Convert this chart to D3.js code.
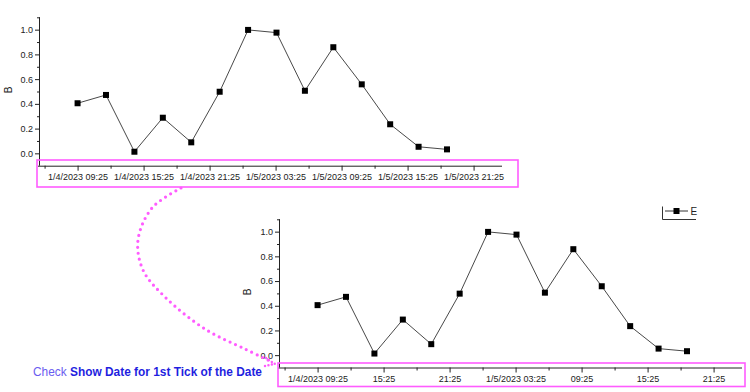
<!DOCTYPE html>
<html><head><meta charset="utf-8">
<script src="https://cdn.jsdelivr.net/npm/d3@7"></script>
<style>
body{margin:0;background:#fff;}
svg{display:block;font-family:"Liberation Sans",Arial,sans-serif;}
</style></head>
<body>
<svg id="c" width="750" height="392"></svg>
<script>
// ---- data ----
const times = ["2023-01-04T09:25","2023-01-04T12:00","2023-01-04T14:35","2023-01-04T17:10","2023-01-04T19:45",
  "2023-01-04T22:20","2023-01-05T00:55","2023-01-05T03:30","2023-01-05T06:05","2023-01-05T08:40",
  "2023-01-05T11:15","2023-01-05T13:50","2023-01-05T16:25","2023-01-05T19:00"];
const valuesB = [0.405,0.472,0.013,0.288,0.089,0.498,0.998,0.976,0.506,0.858,0.558,0.235,0.053,0.032];
const majorTicks = ["2023-01-04T09:25","2023-01-04T15:25","2023-01-04T21:25","2023-01-05T03:25","2023-01-05T09:25","2023-01-05T15:25","2023-01-05T21:25"];
const minorTicks = ["2023-01-04T06:25","2023-01-04T12:25","2023-01-04T18:25","2023-01-05T00:25","2023-01-05T06:25","2023-01-05T12:25","2023-01-05T18:25"];
const xDomain = ["2023-01-04T06:00","2023-01-06T00:00"];
const yTicks = [0.0,0.2,0.4,0.6,0.8,1.0];
const yMinor = [0.1,0.3,0.5,0.7,0.9,1.1];
const yDomain = [-0.1,1.1];
const seriesName = "E";
const yLabel = "B";
const noteRegular = "Check ";
const noteBold = "Show Date for 1st Tick of the Date";
const curvePts = [[181,188],[152,208],[138,240],[143,270],[165,297],[205,329],[245,349],[272,362]];

const parse = d3.timeParse("%Y-%m-%dT%H:%M");
const T = times.map(parse), MJ = majorTicks.map(parse), MN = minorTicks.map(parse);
const data = T.map((t,i)=>({t, v: valuesB[i]}));
const svg = d3.select("#c");
const textCol = "#222";

function panel(x0, x1, yTop, yBot, labelFn, labX, labY){
  const x = d3.scaleTime().domain(xDomain.map(parse)).range([x0,x1]);
  const y = d3.scaleLinear().domain(yDomain).range([yBot,yTop]);
  const g = svg.append("g");
  // x axis
  const xa = g.append("g").attr("transform",`translate(0,${yBot})`)
    .call(d3.axisBottom(x).tickValues(MJ).tickSize(5).tickPadding(3).tickFormat(labelFn));
  xa.select(".domain").attr("d",`M${x0-2},0.5H${x1}`).attr("stroke","#222");
  xa.selectAll(".tick line").attr("stroke","#222");
  xa.selectAll("text").attr("font-size",9).attr("fill",textCol).attr("font-family","Liberation Sans, Arial");
  g.append("g").attr("transform",`translate(0,${yBot})`)
    .call(d3.axisBottom(x).tickValues(MN).tickSize(3).tickFormat(""))
    .call(s=>{s.select(".domain").remove(); s.selectAll("line").attr("stroke","#222");});
  // y axis
  const ya = g.append("g").attr("transform",`translate(${x0},0)`)
    .call(d3.axisLeft(y).tickValues(yTicks).tickSize(5).tickPadding(2).tickFormat(d3.format(".1f")));
  ya.select(".domain").attr("d",`M-0.5,${yBot}V${yTop}`).attr("stroke","#222");
  ya.selectAll(".tick line").attr("stroke","#222");
  ya.selectAll("text").attr("font-size",9).attr("fill",textCol).attr("font-family","Liberation Sans, Arial");
  g.append("g").attr("transform",`translate(${x0},0)`)
    .call(d3.axisLeft(y).tickValues(yMinor).tickSize(3).tickFormat(""))
    .call(s=>{s.select(".domain").remove(); s.selectAll("line").attr("stroke","#222");});
  // label
  g.append("text").attr("transform",`translate(${labX},${labY}) rotate(-90)`)
    .attr("text-anchor","middle").attr("font-size",10).attr("fill",textCol).text(yLabel);
  // line + markers
  g.append("path").datum(data).attr("fill","none").attr("stroke","#333").attr("stroke-width",0.9)
    .attr("d", d3.line().x(d=>x(d.t)).y(d=>y(d.v)));
  g.selectAll("rect.m").data(data).join("rect").attr("class","m")
    .attr("x",d=>x(d.t)-3).attr("y",d=>y(d.v)-3).attr("width",6).attr("height",6).attr("fill","#000");
}

const fullFmt = d3.timeFormat("%-m/%-d/%Y %H:%M");
const timeFmt = d3.timeFormat("%H:%M");
panel(40, 502, 17.3, 165.7, d=>fullFmt(d), 12, 90);
panel(280, 742, 219.3, 367.5, (d,i)=>{
  if(i===0) return fullFmt(d);
  const prev = MJ[i-1];
  return prev.getDate()!==d.getDate() ? fullFmt(d) : timeFmt(d);
}, 251, 292);

// legend
const lg = svg.append("g");
lg.append("path").attr("d","M662.5,206.5V219.5H696").attr("fill","none").attr("stroke","#333").attr("stroke-width",1);
lg.append("line").attr("x1",665).attr("x2",688).attr("y1",211).attr("y2",211).attr("stroke","#333");
lg.append("rect").attr("x",673.5).attr("y",208).attr("width",6).attr("height",6).attr("fill","#000");
lg.append("text").attr("x",690.5).attr("y",215).attr("font-size",10).attr("fill",textCol).text(seriesName);

// highlight boxes
const mag = "#ff5cff";
svg.append("rect").attr("x",37).attr("y",160).attr("width",481).attr("height",27)
  .attr("fill","none").attr("stroke",mag).attr("stroke-width",1.6);
svg.append("rect").attr("x",278).attr("y",363).attr("width",467).attr("height",23.5)
  .attr("fill","none").attr("stroke",mag).attr("stroke-width",1.6);

// dotted connector
svg.append("path").datum(curvePts).attr("fill","none").attr("stroke",mag)
  .attr("stroke-width",3.2).attr("stroke-linecap","round").attr("stroke-dasharray","0 6")
  .attr("d", d3.line().curve(d3.curveCatmullRom)(curvePts));
svg.append("path").attr("d","M266,358L275,364L265,366").attr("fill","none").attr("stroke",mag)
  .attr("stroke-width",2.5).attr("stroke-linecap","round").attr("stroke-dasharray","0 3.5");

// note
const note = svg.append("text").attr("x",33).attr("y",376).attr("font-size",12.5);
note.append("tspan").attr("fill","#6a5cf0").text(noteRegular);
note.append("tspan").attr("fill","#1f1fe0").attr("font-weight","bold").text(noteBold);
const w = note.node().getComputedTextLength();
note.attr("textLength",229).attr("lengthAdjust","spacingAndGlyphs");
</script>
</body></html>
